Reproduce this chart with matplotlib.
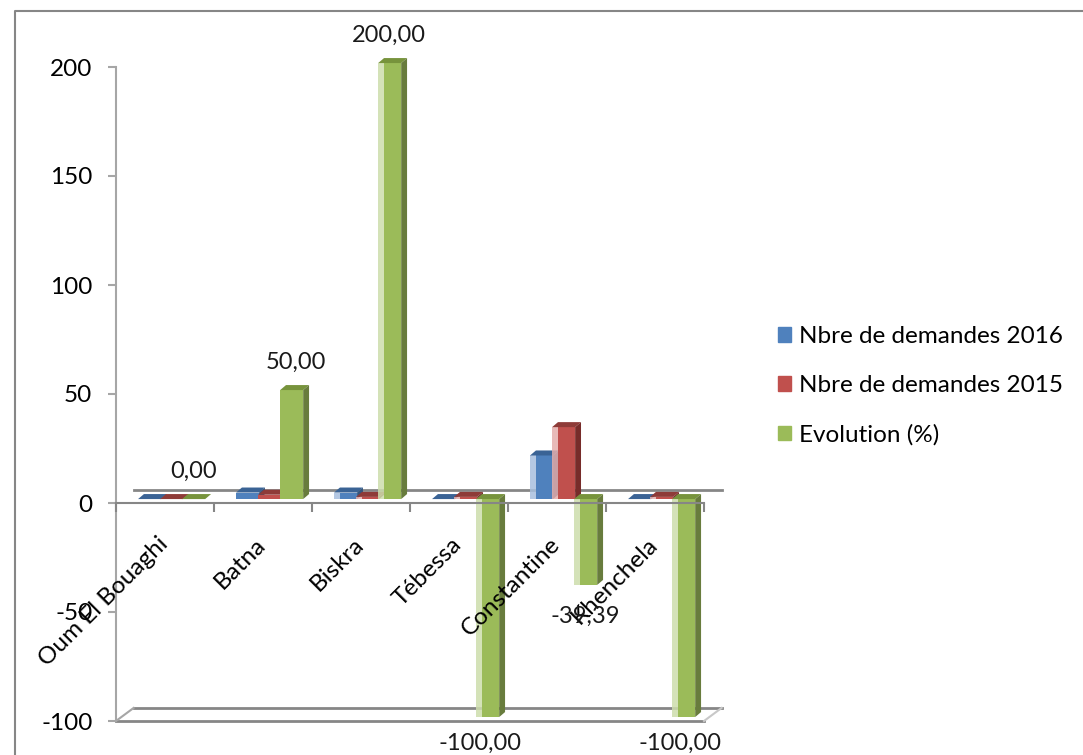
import numpy as np
import matplotlib
matplotlib.use('Agg')
import matplotlib.pyplot as plt
from matplotlib.lines import Line2D
from matplotlib.patches import Patch

plt.rcParams['font.family'] = ['Lato', 'DejaVu Sans']

villes = ['Oum El Bouaghi', 'Batna', 'Biskra', 'Tébessa', 'Constantine', 'Khenchela']
demandes_2016 = [0, 3, 3, 0, 20, 0]
demandes_2015 = [0, 2, 1, 1, 33, 1]
evolution = [0.00, 50.00, 200.00, -100.00, -39.39, -100.00]
etiquettes = ['0,00', '50,00', '200,00', '-100,00', '-39,39', '-100,00']
noms_series = ['Nbre de demandes 2016', 'Nbre de demandes 2015', 'Evolution (%)']
graduations = [-100, -50, 0, 50, 100, 150, 200]

# kolory: przod, gora, bok, odbicie
kolory = [('#4F81BD', '#3A6395', '#33567F', '#A7BFDE'),
          ('#C0504D', '#8E3B38', '#772C2A', '#E4AEAC'),
          ('#9BBB59', '#77933C', '#687C3D', '#CDDDAC')]

W, H = 1083, 755
fig = plt.figure(figsize=(W / 100, H / 100), dpi=100)
ax = fig.add_axes([116 / W, 1 - 721 / H, 588 / W, 654 / H])
ax.set_xlim(0, 6)
ax.set_ylim(-100, 200)
ax.patch.set_alpha(0)

szer = 0.225      # szerokosc slupka
start = 0.225
dx = 0.06         # glebokosc slupka
dy = 2.3
podn = 1.8        # podniesienie podstawy
odb = 0.06        # jasny pasek z lewej
sciana_x = 0.18
sciana_y = 6.0

# sciany wykresu
szary = '#868686'
ax.plot([sciana_x, 6 + sciana_x], [sciana_y, sciana_y], color=szary, lw=2, zorder=1, clip_on=False)
ax.plot([sciana_x, 6 + sciana_x], [-100 + sciana_y, -100 + sciana_y], color=szary, lw=2, zorder=1, clip_on=False)
ax.plot([0, 6], [-100, -100], color=szary, lw=2, zorder=1, clip_on=False)
ax.plot([0, sciana_x], [-100, -100 + sciana_y], color='#A6A6A6', lw=1.5, zorder=1, clip_on=False)
ax.plot([6, 6 + sciana_x], [-100, -100 + sciana_y], color='#C8C8C8', lw=1.5, zorder=1, clip_on=False)

serie = [demandes_2016, demandes_2015, evolution]
z = 3
for i in range(len(villes)):
    for s in range(3):
        v = serie[s][i]
        x = i + start + s * szer
        c = kolory[s]
        gora = max(v, 0) + podn
        dol = min(v, 0) + podn
        x1 = x
        if i >= 2:
            ax.bar(x, v, odb, bottom=podn, align='edge', color=c[3], alpha=0.85, zorder=z, clip_on=False)
            x1 = x + odb
        x2 = x + szer + 0.01
        ax.bar(x1, v, x2 - x1, bottom=podn, align='edge', color=c[0], zorder=z, clip_on=False)
        ax.fill([x, x2, x2 + dx, x + dx], [gora, gora, gora + dy, gora + dy], color=c[1], lw=0, zorder=z, clip_on=False)
        ax.fill([x2, x2 + dx, x2 + dx, x2], [dol, dol + dy, gora + dy, gora], color=c[2], lw=0, zorder=z, clip_on=False)
        z += 1

# etykiety danych (przesuniecia w pikselach)
przes_x = [0, 5, 0, -7, 0, -3]
for i in range(len(villes)):
    v = evolution[i]
    cx = i + start + 2 * szer + szer / 2
    if v >= 0:
        ax.annotate(etiquettes[i], (cx, v), xytext=(przes_x[i], 32), textcoords='offset pixels',
                    ha='center', va='center', fontsize=17, color='#1a1a1a', zorder=50, annotation_clip=False)
    else:
        ax.annotate(etiquettes[i], (cx, v), xytext=(przes_x[i], -22 if v == -100 else -27), textcoords='offset pixels',
                    ha='center', va='center', fontsize=17, color='#1a1a1a', zorder=50, annotation_clip=False)

# osie
for k in ['top', 'right']:
    ax.spines[k].set_visible(False)
ax.spines['bottom'].set_position(('data', 0))
ax.spines['bottom'].set_color(szary)
ax.spines['bottom'].set_linewidth(1.5)
ax.spines['bottom'].set_zorder(60)
ax.spines['left'].set_color('#A6A6A6')
ax.spines['left'].set_linewidth(1.5)
ax.set_yticks(graduations)
ax.set_yticklabels([str(g) for g in graduations], fontsize=17.5)
ax.tick_params(axis='y', length=6, width=1.5, color='#A6A6A6', pad=11)
ax.set_xticks(range(7))
ax.set_xticklabels([])
ax.tick_params(axis='x', which='major', length=6.5, width=1.5, color=szary, direction='out')
ax.set_xticks(np.arange(6) + 0.42, minor=True)
ax.set_xticklabels(villes, minor=True, rotation=45, ha='right', va='top', rotation_mode='anchor', fontsize=17.5)
ax.tick_params(axis='x', which='minor', length=0, pad=22)
ax.xaxis.set_zorder(40)

# legenda
uchwyty = [Patch(color=kolory[s][0], label=noms_series[s]) for s in range(3)]
fig.legend(handles=uchwyty, loc='center left', bbox_to_anchor=(756 / W, 1 - 386 / H), frameon=False,
           fontsize=17.5, handlelength=0.55, handleheight=0.55, handletextpad=0.3, labelspacing=1.15)

# ramka
ramka = '#868686'
fig.add_artist(Line2D([15 / W, 15 / W, 1], [0, 1 - 11 / H, 1 - 11 / H], color=ramka, lw=1.5))

fig.savefig('out.png', dpi=100)
